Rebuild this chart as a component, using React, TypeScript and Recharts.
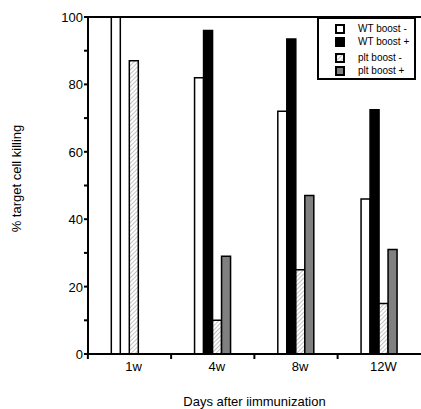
import { BarChart, Bar, XAxis, YAxis, ReferenceLine, Legend } from 'recharts'

const weeks = ['1w', '4w', '8w', '12W']
const wtMinus = [100, 82, 72, 46]
const wtPlus = [0, 96, 93.5, 72.5]
const pltMinus = [87, 10, 25, 15]
const pltPlus = [0, 29, 47, 31]
const yTicks = [0, 10, 20, 30, 40, 50, 60, 70, 80, 90, 100]

const seriesNames = ['WT boost -', 'WT boost +', 'plt boost -', 'plt boost +']
const seriesKeys = ['wtMinus', 'wtPlus', 'pltMinus', 'pltPlus']
const fills = ['#ffffff', '#000000', 'url(#hatch)', '#808080']

const data = weeks.map((w, i) => ({
  week: w,
  wtMinus: wtMinus[i],
  wtPlus: wtPlus[i],
  pltMinus: pltMinus[i],
  pltPlus: pltPlus[i],
}))

const FONT = 'Arial, "Liberation Sans", Helvetica, sans-serif'
const BAND = 83.5

function YTick({ x, y, payload }: any) {
  if (payload.value % 20 !== 0) return null
  return (
    <text x={x} y={y} dy={5} textAnchor="end" fontSize={13} fontFamily={FONT} fill="#000">
      {payload.value}
    </text>
  )
}

function XTick({ x, y, payload }: any) {
  const left = x - BAND / 2
  return (
    <g>
      <line x1={left} x2={left} y1={y - 9} y2={y - 3} stroke="#000" strokeWidth={2} />
      <text x={x + 4} y={y + 9} textAnchor="middle" fontSize={13} fontFamily={FONT} fill="#000">
        {payload.value}
      </text>
    </g>
  )
}

function YLabel({ viewBox }: any) {
  const cy = viewBox.y + viewBox.height / 2 - 7
  return (
    <text
      x={16}
      y={cy}
      transform={`rotate(-90, 16, ${cy})`}
      textAnchor="middle"
      dominantBaseline="central"
      fontSize={13}
      fontFamily={FONT}
      fill="#000"
    >
      % target cell killing
    </text>
  )
}

function LegendBox() {
  return (
    <div
      style={{
        width: 99,
        height: 63,
        border: '2px solid #000',
        boxSizing: 'border-box',
        background: '#fff',
        fontFamily: FONT,
        fontSize: 10,
        position: 'relative',
      }}
    >
      {seriesNames.map((name, i) => (
        <div
          key={name}
          style={{
            position: 'absolute',
            left: 16,
            top: [4, 17, 33, 46][i],
            display: 'flex',
            alignItems: 'center',
            height: 12,
          }}
        >
          <svg width={10} height={10} style={{ marginRight: 13 }}>
            <rect x={1} y={1} width={8} height={8} fill={fills[i]} stroke="#000" strokeWidth={2} />
          </svg>
          <span style={{ lineHeight: '12px' }}>{name}</span>
        </div>
      ))}
    </div>
  )
}

export default function App() {
  return (
    <div style={{ position: 'absolute', left: 0, top: 0, width: 421, height: 409, background: '#fff' }}>
      <svg width={0} height={0} style={{ position: 'absolute' }}>
        <defs>
          <pattern id="hatch" width={3} height={3} patternUnits="userSpaceOnUse" patternTransform="rotate(45)">
            <rect width={3} height={3} fill="#fff" />
            <line x1={0} y1={0} x2={0} y2={3} stroke="#888" strokeWidth={1} />
          </pattern>
        </defs>
      </svg>
      <BarChart
        width={421}
        height={409}
        data={data}
        margin={{ top: 17, right: 0, bottom: 0, left: 0 }}
        barCategoryGap="28%"
        barGap={0}
      >
        <XAxis
          dataKey="week"
          height={55}
          tickLine={false}
          axisLine={{ stroke: '#000', strokeWidth: 2 }}
          tick={<XTick />}
          interval={0}
          label={{ value: 'Days after iimmunization', position: 'insideBottom', offset: 3, fontSize: 13, fontFamily: FONT, fill: '#000' }}
        />
        <YAxis
          width={88}
          domain={[0, 100]}
          ticks={yTicks}
          interval={0}
          tickSize={4}
          tickMargin={1}
          tickLine={{ stroke: '#000', strokeWidth: 2 }}
          axisLine={{ stroke: '#000', strokeWidth: 2 }}
          tick={<YTick />}
          allowDataOverflow
          label={<YLabel />}
        />
        <ReferenceLine y={100} stroke="#000" strokeWidth={2} />
        {seriesKeys.map((k, i) => (
          <Bar key={k} dataKey={k} name={seriesNames[i]} fill={fills[i]} stroke="#000" strokeWidth={1.5} isAnimationActive={false} />
        ))}
        <Legend
          layout="vertical"
          align="center"
          verticalAlign="middle"
          wrapperStyle={{ top: 17, left: 317, width: 99 }}
          content={() => <LegendBox />}
        />
      </BarChart>
    </div>
  )
}
